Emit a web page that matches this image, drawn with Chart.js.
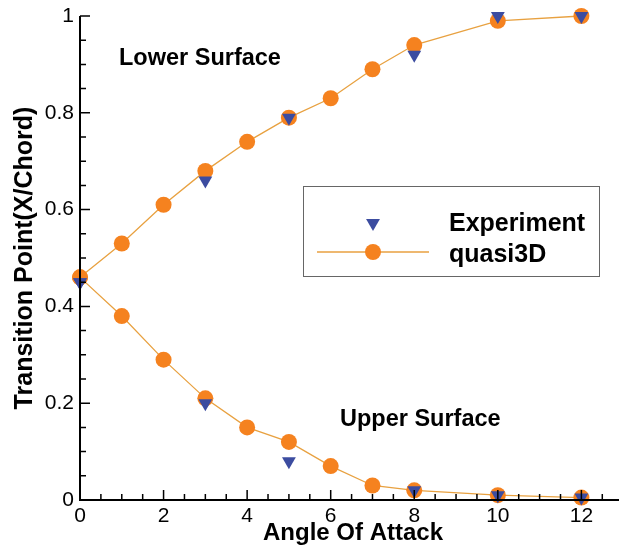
<!DOCTYPE html>
<html>
<head>
<meta charset="utf-8">
<script src="https://cdn.jsdelivr.net/npm/chart.js@4.4.1/dist/chart.umd.min.js"></script>
<style>
    html, body { margin: 0; padding: 0; background: #fff; }
    #wrap { width: 619px; height: 548px; position: relative; }
</style>
</head>
<body>
<div id="wrap"><canvas id="transitionChart"></canvas></div>
<script>
// Angle of attack (deg) for measured and computed points
const expAngles = [0, 3, 5, 8, 10, 12];
const calcAngles = [0, 1, 2, 3, 4, 5, 6, 7, 8, 10, 12];

// Transition location, x/c
const expLower = [0.45, 0.66, 0.79, 0.92, 1.0, 1.0];
const expUpper = [0.45, 0.20, 0.08, 0.02, 0.01, 0.005];
const calcLower = [0.46, 0.53, 0.61, 0.68, 0.74, 0.79, 0.83, 0.89, 0.94, 0.99, 1.0];
const calcUpper = [0.46, 0.38, 0.29, 0.21, 0.15, 0.12, 0.07, 0.03, 0.02, 0.01, 0.005];

const xTicks = [0, 2, 4, 6, 8, 10, 12];
const yTicks = [0, 0.2, 0.4, 0.6, 0.8, 1];
const seriesNames = ['Experiment', 'quasi3D'];

const FONT = "'Liberation Sans', Arial, Helvetica, sans-serif";
const BLUE = '#3c4ca0';
const ORANGE = '#f5821f';
const LINE_ORANGE = '#e8a140';

function toPoints(xs, ys) {
    return xs.map((x, i) => ({ x: x, y: ys[i] }));
}

const expStyle = {
    label: seriesNames[0],
    showLine: false,
    pointStyle: 'triangle',
    pointRotation: 180,
    pointRadius: 8,
    pointBorderWidth: 0,
    pointBackgroundColor: BLUE,
    borderColor: BLUE,
    clip: false
};

const calcStyle = {
    label: seriesNames[1],
    showLine: true,
    tension: 0,
    borderColor: LINE_ORANGE,
    borderWidth: 1.3,
    pointStyle: 'circle',
    pointRadius: 8,
    pointBorderWidth: 0,
    pointBackgroundColor: ORANGE,
    clip: false
};

// Inward ticks, axis lines, titles, labels and the legend box
const plotDecor = {
    id: 'plotDecor',
    afterDatasetsDraw(chart) {
        const { ctx, chartArea, scales: { x, y } } = chart;
        const x0 = chartArea.left, y0 = y.getPixelForValue(0);
        ctx.save();
        ctx.strokeStyle = '#000';
        ctx.lineWidth = 1.5;
        ctx.beginPath();
        for (let v = 0; v <= 12.5001; v += 0.5) {
            const len = xTicks.includes(v) ? 10 : 6;
            const px = x.getPixelForValue(v);
            ctx.moveTo(px, y0);
            ctx.lineTo(px, y0 - len);
        }
        for (let k = 0; k <= 20; k++) {
            const len = k % 4 === 0 ? 10 : 6;
            const py = y.getPixelForValue(k * 0.05);
            ctx.moveTo(x0, py);
            ctx.lineTo(x0 + len, py);
        }
        ctx.stroke();

        ctx.lineWidth = 2;
        ctx.beginPath();
        ctx.moveTo(x0, y.getPixelForValue(1));
        ctx.lineTo(x0, y0);
        ctx.lineTo(chart.width, y0);
        ctx.stroke();
        ctx.restore();
    },
    afterDraw(chart) {
        const { ctx } = chart;
        ctx.save();
        ctx.fillStyle = '#000';
        ctx.textBaseline = 'alphabetic';

        // axis titles
        ctx.font = 'bold 24px ' + FONT;
        ctx.textAlign = 'center';
        ctx.fillText('Angle Of Attack', 353, 540);
        ctx.save();
        ctx.translate(32, 258);
        ctx.rotate(-Math.PI / 2);
        ctx.font = 'bold 25px ' + FONT;
        ctx.fillText('Transition Point(X/Chord)', 0, 0);
        ctx.restore();

        // surface labels
        ctx.textAlign = 'left';
        ctx.font = 'bold 23.5px ' + FONT;
        ctx.fillText('Lower Surface', 119, 65);
        ctx.fillText('Upper Surface', 340, 426);

        // legend
        ctx.fillStyle = '#fff';
        ctx.fillRect(303.5, 186.5, 296, 90);
        ctx.strokeStyle = '#666';
        ctx.lineWidth = 1;
        ctx.strokeRect(303.5, 186.5, 296, 90);

        const exp = chart.data.datasets[0];
        const calc = chart.data.datasets[2];
        ctx.fillStyle = exp.pointBackgroundColor;
        Chart.helpers.drawPoint(ctx, { pointStyle: 'triangle', rotation: 180, radius: 8, borderWidth: 0 }, 373, 223);

        ctx.strokeStyle = calc.borderColor;
        ctx.lineWidth = calc.borderWidth;
        ctx.beginPath();
        ctx.moveTo(317, 252);
        ctx.lineTo(429, 252);
        ctx.stroke();
        ctx.fillStyle = calc.pointBackgroundColor;
        Chart.helpers.drawPoint(ctx, { pointStyle: 'circle', radius: 8, borderWidth: 0 }, 373, 252);

        ctx.fillStyle = '#000';
        ctx.font = 'bold 25px ' + FONT;
        ctx.fillText(seriesNames[0], 449, 231);
        ctx.fillText(seriesNames[1], 449, 262);
        ctx.restore();
    }
};

const chart = new Chart(document.getElementById('transitionChart'), {
    type: 'scatter',
    data: {
        datasets: [
            Object.assign({ data: toPoints(expAngles, expLower) }, expStyle),
            Object.assign({ data: toPoints(expAngles, expUpper) }, expStyle),
            Object.assign({ data: toPoints(calcAngles, calcLower) }, calcStyle),
            Object.assign({ data: toPoints(calcAngles, calcUpper) }, calcStyle)
        ]
    },
    options: {
        responsive: true,
        maintainAspectRatio: false,
        animation: false,
        events: [],
        layout: { autoPadding: false, padding: { top: 16, right: 0, left: 0, bottom: 0 } },
        plugins: {
            legend: { display: false },
            tooltip: { enabled: false }
        },
        scales: {
            x: {
                type: 'linear',
                min: 0,
                max: 12.9,
                grid: { display: false, drawTicks: false },
                border: { display: false },
                ticks: {
                    color: '#000',
                    font: { family: FONT, size: 21 },
                    padding: 4,
                    maxRotation: 0,
                    callback: v => String(v)
                },
                afterBuildTicks: s => { s.ticks = xTicks.map(v => ({ value: v })); },
                afterFit: s => { s.height = 48; s.paddingLeft = 0; s.paddingRight = 0; }
            },
            y: {
                type: 'linear',
                min: 0,
                max: 1,
                grid: { display: false, drawTicks: false },
                border: { display: false },
                ticks: {
                    color: '#000',
                    font: { family: FONT, size: 21 },
                    padding: 6,
                    callback: v => String(v)
                },
                afterBuildTicks: s => { s.ticks = yTicks.map(v => ({ value: v })); },
                afterFit: s => { s.width = 80; s.paddingTop = 0; s.paddingBottom = 0; }
            }
        }
    },
    plugins: [plotDecor]
});
</script>
</body>
</html>
